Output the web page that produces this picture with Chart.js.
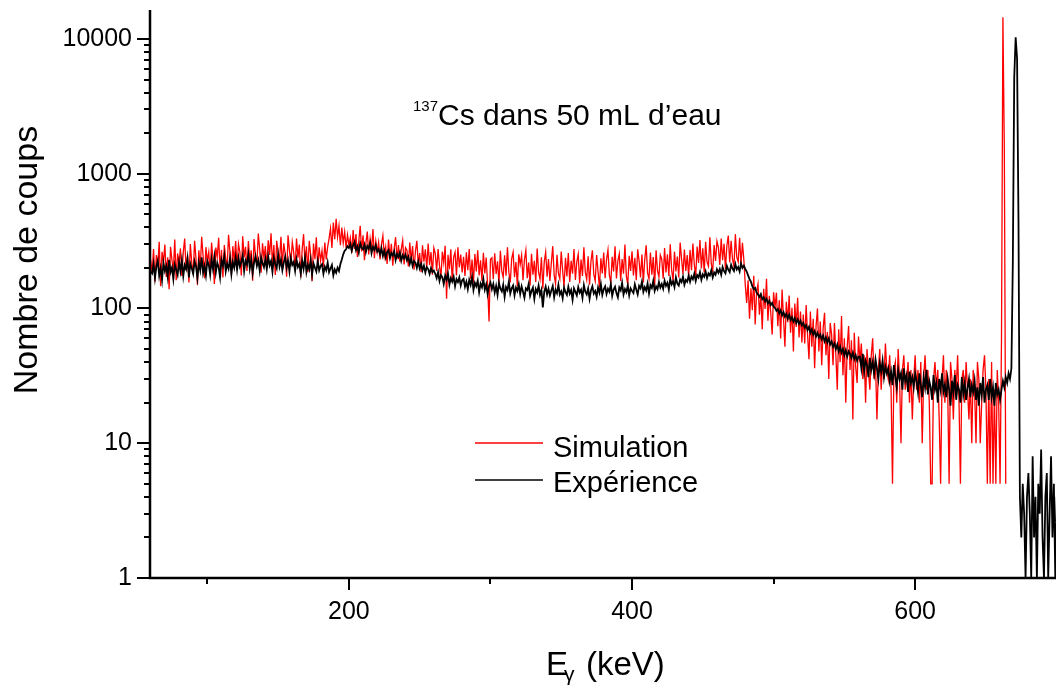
<!DOCTYPE html>
<html>
<head>
<meta charset="utf-8">
<script src="https://cdn.jsdelivr.net/npm/chart.js@4.4.1/dist/chart.umd.min.js"></script>
<style>
  body { margin: 0; background: #fff; }
</style>
</head>
<body>
<canvas id="spectre" width="1056" height="688"></canvas>
<script>
// channel calibration: first channel energy (keV), 1 keV per channel
const firstEnergy = 60;

// experience (black), 60..700 keV
const expCounts = [
  188,
  182, 214, 168, 205, 226, 175, 199, 163, 218, 190, 207, 172, 230, 186, 201, 165, 212, 194, 178, 221,
  189, 228, 174, 210, 196, 235, 170, 215, 199, 181, 224, 205, 168, 219, 192, 240, 184, 207, 176, 226,
  212, 178, 231, 196, 242, 185, 218, 203, 170, 229, 208, 246, 188, 214, 197, 236, 180, 222, 201, 239,
  194, 237, 205, 221, 248, 189, 226, 212, 252, 198, 231, 183, 219, 244, 207, 228, 191, 240, 216, 202,
  233, 196, 244, 209, 225, 187, 238, 214, 199, 251, 205, 230, 192, 219, 242, 201, 227, 188, 236, 210,
  221, 190, 232, 203, 214, 181, 226, 197, 238, 186, 211, 195, 229, 178, 216, 201, 188, 224, 192, 207,
  213, 181, 204, 192, 219, 186, 198, 210, 176, 195, 184, 201, 190, 214, 231, 252, 268, 275, 290, 281,
  301, 268, 296, 312, 271, 289, 260, 305, 282, 274, 298, 263, 291, 278, 306, 258, 287, 272, 295, 264,
  275, 252, 281, 246, 268, 239, 263, 271, 236, 258, 247, 266, 229, 254, 241, 260, 226, 248, 235, 251,
  228, 242, 215, 236, 207, 225, 219, 200, 223, 198, 214, 192, 208, 185, 203, 196, 180, 199, 186, 191,
  181, 168, 186, 160, 177, 171, 152, 175, 163, 181, 150, 168, 158, 172, 146, 165, 157, 170, 148, 162,
  166, 145, 158, 139, 163, 150, 171, 137, 155, 146, 161, 132, 153, 144, 165, 138, 151, 128, 147, 156,
  139, 152, 131, 147, 126, 155, 140, 134, 150, 122, 144, 137, 158, 129, 141, 148, 125, 143, 135, 151,
  128, 146, 133, 120, 141, 137, 152, 124, 135, 143, 118, 139, 131, 148, 126, 137, 102, 133, 145, 127,
  140, 125, 136, 147, 121, 138, 130, 150, 127, 134, 119, 143, 132, 126, 145, 129, 137, 116, 141, 133,
  125, 144, 131, 138, 120, 149, 133, 127, 141, 118, 136, 146, 129, 135, 122, 143, 131, 151, 126, 139,
  146, 128, 140, 133, 152, 124, 138, 145, 130, 121, 143, 136, 155, 127, 139, 132, 148, 125, 141, 135,
  130, 151, 138, 127, 147, 141, 158, 133, 144, 136, 153, 129, 149, 142, 160, 135, 146, 139, 157, 143,
  152, 140, 161, 147, 155, 138, 166, 151, 159, 144, 170, 153, 148, 164, 157, 172, 150, 163, 158, 175,
  158, 173, 165, 181, 160, 177, 170, 186, 163, 179, 172, 188, 168, 182, 176, 192, 170, 185, 178, 195,
  184, 196, 178, 203, 189, 182, 207, 194, 186, 211, 198, 190, 214, 195, 203, 188, 216, 200, 208, 197,
  188, 176, 165, 158, 146, 139, 142, 131, 127, 122, 128, 117, 121, 113, 118, 109, 114, 106, 110, 103,
  101, 96, 99, 92, 97, 89, 94, 87, 91, 84, 90, 82, 86, 80, 85, 78, 83, 77, 81, 75,
  78, 72, 75, 69, 73, 66, 70, 64, 68, 62, 66, 61, 64, 59, 63, 57, 61, 56, 60, 54,
  57, 52, 55, 50, 54, 48, 52, 47, 50, 45, 49, 44, 48, 46, 43, 47, 42, 45, 41, 44,
  44, 36, 46, 34, 41, 38, 31, 43, 35, 40, 33, 42, 36, 30, 39, 34, 41, 31, 37, 33,
  36, 29, 34, 27, 38, 31, 26, 35, 30, 33, 25, 36, 29, 32, 24, 34, 28, 31, 26, 33,
  29, 24, 33, 27, 22, 31, 26, 35, 23, 29, 26, 21, 32, 25, 28, 20, 30, 25, 33, 24,
  27, 22, 30, 25, 19, 29, 24, 32, 21, 27, 25, 20, 31, 23, 28, 21, 26, 30, 22, 27,
  24, 29, 21, 26, 19, 28, 23, 31, 20, 25, 27, 21, 30, 22, 26, 19, 28, 23, 25, 21,
  25, 29, 26, 31, 28, 33, 30, 36, 220, 5200, 10300, 7200, 450, 4, 2, 5, 3, 1, 4, 6,
  3, 1, 8, 2, 4, 1, 5, 3, 9, 2, 1, 4, 6, 1, 3, 8, 2, 5, 1, 4
];

// simulation (red), 60..664 keV
const simCounts = [
  230,
  182, 276, 158, 249, 205, 312, 146, 263, 221, 298, 171, 240, 139, 287, 230, 189, 325, 162, 256, 214,
  279, 174, 262, 330, 193, 244, 156, 301, 218, 180, 318, 232, 150, 270, 199, 341, 246, 168, 285, 224,
  263, 185, 309, 228, 152, 283, 241, 335, 196, 272, 170, 296, 236, 201, 352, 259, 178, 290, 222, 316,
  203, 301, 262, 176, 344, 239, 287, 190, 317, 226, 270, 161, 328, 247, 208, 360, 274, 184, 305, 235,
  290, 199, 321, 250, 362, 210, 296, 177, 318, 262, 228, 340, 204, 305, 253, 172, 349, 271, 215, 311,
  262, 196, 330, 238, 298, 170, 275, 356, 214, 289, 186, 318, 251, 160, 303, 232, 337, 201, 284, 226,
  268, 204, 309, 231, 287, 330, 392, 281, 435, 326, 462, 340, 410, 295, 398, 306, 371, 282, 352, 296,
  335, 258, 382, 276, 356, 241, 318, 410, 265, 349, 228, 305, 372, 252, 330, 270, 389, 236, 316, 262,
  310, 231, 298, 347, 245, 286, 214, 325, 240, 302, 208, 279, 338, 232, 295, 222, 276, 320, 212, 283,
  271, 205, 309, 228, 290, 194, 266, 318, 212, 258, 186, 294, 222, 275, 199, 303, 210, 262, 178, 281,
  256, 190, 276, 208, 168, 264, 218, 292, 118, 250, 196, 275, 160, 240, 262, 176, 284, 202, 251, 185,
  242, 174, 261, 192, 276, 166, 231, 155, 254, 188, 270, 176, 228, 160, 259, 182, 239, 148, 80, 232,
  238, 165, 257, 180, 224, 152, 268, 190, 170, 248, 175, 284, 186, 156, 235, 262, 171, 221, 146, 252,
  212, 248, 162, 230, 270, 168, 219, 148, 255, 178, 226, 157, 279, 185, 165, 240, 140, 222, 262, 172,
  233, 160, 218, 290, 177, 152, 250, 182, 166, 265, 190, 146, 238, 173, 258, 157, 226, 181, 276, 163,
  222, 253, 154, 231, 174, 284, 186, 164, 244, 150, 224, 270, 179, 160, 249, 188, 143, 236, 182, 260,
  168, 231, 272, 177, 155, 242, 188, 290, 167, 226, 254, 160, 233, 181, 298, 174, 151, 246, 190, 266,
  176, 238, 162, 275, 225, 170, 251, 156, 232, 294, 183, 166, 260, 178, 241, 149, 270, 190, 172, 249,
  232, 166, 281, 185, 252, 174, 300, 193, 160, 264, 188, 243, 170, 308, 233, 180, 274, 190, 249, 173,
  272, 192, 303, 211, 175, 288, 218, 322, 198, 280, 185, 312, 222, 206, 338, 214, 190, 296, 225, 315,
  284, 210, 330, 228, 302, 196, 292, 348, 220, 318, 232, 205, 356, 240, 222, 334, 214, 307, 230, 150,
  110, 162, 84, 141, 97, 175, 76, 133, 152, 90, 126, 70, 140, 99, 166, 81, 124, 93, 64, 132,
  102, 131, 74, 115, 60, 138, 85, 52, 112, 79, 125, 66, 101, 48, 109, 73, 120, 61, 95, 56,
  90, 55, 106, 64, 42, 95, 52, 84, 36, 74, 100, 48, 80, 38, 71, 93, 45, 67, 30, 78,
  64, 38, 78, 45, 25, 70, 40, 88, 32, 60, 20, 52, 74, 35, 58, 15, 66, 37, 28, 62,
  40, 55, 30, 45, 20, 50, 35, 25, 45, 60, 30, 40, 15, 35, 50, 25, 40, 30, 55, 35,
  30, 45, 25, 5, 35, 40, 20, 50, 30, 10, 35, 45, 25, 30, 40, 20, 35, 15, 30, 45,
  25, 35, 20, 40, 10, 30, 45, 25, 35, 20, 5, 5, 30, 40, 25, 35, 15, 5, 30, 45,
  20, 35, 25, 5, 40, 30, 15, 35, 25, 45, 20, 5, 30, 35, 20, 40, 25, 15, 30, 10,
  35, 25, 10, 40, 30, 10, 20, 35, 45, 25, 5, 30, 5, 40, 5, 25, 5, 35, 20, 5,
  60, 14500, 1500, 5
];

const xMajorTicks = [200, 400, 600];
const xMinorTicks = [100, 300, 500, 700];
const yMajorTicks = [1, 10, 100, 1000, 10000];
const yMinorSteps = [2, 3, 4, 5, 6, 7, 8, 9];

const seriesNames = ["Simulation", "Expérience"];

const toPoints = arr => arr.map((v, i) => ({ x: firstEnergy + i, y: v }));

const FONT = "'Liberation Sans', Arial, Helvetica, sans-serif";

const decor = {
  id: "decor",
  afterDraw(chart) {
    const { ctx, chartArea: a, scales: { x, y } } = chart;
    ctx.save();
    ctx.strokeStyle = "#000";
    ctx.fillStyle = "#000";

    // axes
    ctx.lineWidth = 2.5;
    ctx.beginPath();
    ctx.moveTo(a.left, a.top);
    ctx.lineTo(a.left, a.bottom);
    ctx.lineTo(a.right, a.bottom);
    ctx.stroke();

    // ticks
    ctx.lineWidth = 2;
    ctx.beginPath();
    yMajorTicks.forEach(v => {
      const py = Math.round(y.getPixelForValue(v));
      ctx.moveTo(a.left - 13, py); ctx.lineTo(a.left, py);
      yMinorSteps.forEach(m => {
        const val = v * m;
        if (val > y.max) return;
        const my = Math.round(y.getPixelForValue(val));
        ctx.moveTo(a.left - 6, my); ctx.lineTo(a.left, my);
      });
    });
    xMajorTicks.forEach(v => {
      const px = Math.round(x.getPixelForValue(v));
      ctx.moveTo(px, a.bottom); ctx.lineTo(px, a.bottom + 12);
    });
    xMinorTicks.forEach(v => {
      const px = Math.round(x.getPixelForValue(v));
      if (px > a.right) return;
      ctx.moveTo(px, a.bottom); ctx.lineTo(px, a.bottom + 6);
    });
    ctx.stroke();

    // y title
    ctx.save();
    ctx.translate(28, 260);
    ctx.rotate(-Math.PI / 2);
    ctx.font = "34px " + FONT;
    ctx.textAlign = "center";
    ctx.textBaseline = "middle";
    ctx.fillText("Nombre de coups", 0, 0);
    ctx.restore();

    // x title: E_gamma (keV)
    ctx.textAlign = "left";
    ctx.textBaseline = "alphabetic";
    ctx.font = "33px " + FONT;
    ctx.fillText("E", 546, 675);
    ctx.font = "21px " + FONT;
    ctx.fillText("γ", 564, 681);
    ctx.font = "33px " + FONT;
    ctx.fillText("(keV)", 586, 675);

    // annotation
    ctx.font = "15px " + FONT;
    ctx.fillText("137", 413, 111);
    ctx.font = "30px " + FONT;
    ctx.fillText("Cs dans 50 mL d’eau", 438, 125);

    // legend
    const colors = ["#ff0000", "#000000"];
    const rows = [443, 480];
    const bases = [457, 492];
    seriesNames.forEach((name, i) => {
      ctx.strokeStyle = colors[i];
      ctx.lineWidth = 1.3;
      ctx.beginPath();
      ctx.moveTo(475, rows[i]);
      ctx.lineTo(543, rows[i]);
      ctx.stroke();
      ctx.font = "29px " + FONT;
      ctx.fillStyle = "#000";
      ctx.fillText(name, 553, bases[i]);
    });
    ctx.restore();
  }
};

new Chart(document.getElementById("spectre"), {
  type: "line",
  data: {
    datasets: [
      {
        label: seriesNames[0],
        data: toPoints(simCounts),
        borderColor: "#ff0000",
        borderWidth: 1.3,
        pointRadius: 0,
        tension: 0,
        order: 2
      },
      {
        label: seriesNames[1],
        data: toPoints(expCounts),
        borderColor: "#000000",
        borderWidth: 1.8,
        pointRadius: 0,
        tension: 0,
        order: 1
      }
    ]
  },
  options: {
    responsive: false,
    animation: false,
    layout: { padding: { top: 10, right: 0, bottom: 0, left: 0 } },
    plugins: {
      legend: { display: false },
      tooltip: { enabled: false }
    },
    scales: {
      x: {
        type: "linear",
        min: 59.5,
        max: 699.5,
        grid: { display: false, drawTicks: false },
        border: { display: false },
        afterBuildTicks: s => { s.ticks = xMajorTicks.map(v => ({ value: v })); },
        afterFit: s => { s.height = 110; s.paddingLeft = 0; s.paddingRight = 0; },
        ticks: {
          padding: 19,
          maxRotation: 0,
          color: "#000",
          font: { family: FONT, size: 25 },
          callback: v => String(v)
        }
      },
      y: {
        type: "logarithmic",
        min: 1,
        max: 16400,
        grid: { display: false, drawTicks: false },
        border: { display: false },
        afterBuildTicks: s => { s.ticks = yMajorTicks.map(v => ({ value: v })); },
        afterFit: s => { s.width = 150; s.paddingTop = 0; s.paddingBottom = 0; },
        ticks: {
          padding: 18,
          color: "#000",
          font: { family: FONT, size: 25 },
          callback: v => String(v)
        }
      }
    }
  },
  plugins: [decor]
});
</script>
</body>
</html>
